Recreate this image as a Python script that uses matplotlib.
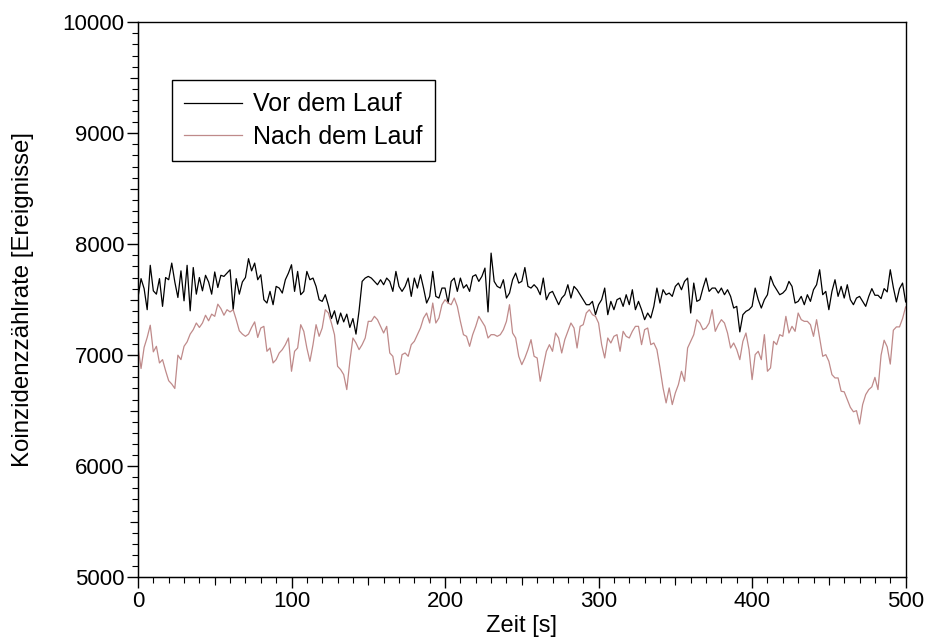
import numpy as np
import matplotlib
matplotlib.use("Agg")
import matplotlib.pyplot as plt
from matplotlib.ticker import MultipleLocator

# time axis, one sample every 2 s
zeit = np.arange(0, 501, 2)

# Vor dem Lauf (black)
vor = [
    7520, 7690, 7600, 7410, 7810, 7580, 7550, 7690, 7440, 7700,
    7680, 7830, 7660, 7520, 7760, 7490, 7810, 7400, 7790, 7550,
    7700, 7580, 7720, 7660, 7550, 7750, 7610, 7720, 7710, 7740,
    7770, 7410, 7690, 7550, 7660, 7700, 7870, 7760, 7830, 7680,
    7725, 7500, 7470, 7575, 7455, 7620, 7605, 7560, 7680, 7740,
    7815, 7575, 7755, 7545, 7575, 7755, 7680, 7695, 7620, 7500,
    7485, 7545, 7450, 7330, 7400, 7280, 7380, 7300, 7370, 7250,
    7330, 7190, 7400, 7665, 7695, 7710, 7695, 7665, 7635,
    7680, 7635, 7695, 7665, 7575, 7755, 7620, 7575, 7620, 7695,
    7530, 7695, 7605, 7725, 7605, 7470, 7530, 7755, 7530, 7515,
    7605, 7605, 7470, 7665, 7695, 7575, 7695, 7605, 7635, 7575,
    7710, 7725, 7665, 7710, 7785, 7390, 7920, 7665, 7620,
    7605, 7680, 7515, 7560, 7680, 7740, 7650, 7665, 7790, 7620,
    7605, 7635, 7605, 7545, 7695, 7500, 7560, 7575, 7515, 7455,
    7515, 7545, 7635, 7515, 7620, 7590, 7545, 7500, 7455, 7455,
    7485, 7365, 7455, 7500, 7605, 7365, 7485, 7410, 7500, 7515,
    7440, 7545, 7455, 7590, 7410, 7485, 7410, 7320, 7380, 7335,
    7440, 7605, 7470, 7590, 7545, 7560, 7530, 7620, 7650, 7590,
    7665, 7695, 7380, 7650, 7485, 7500, 7605, 7695, 7575, 7605,
    7605, 7560, 7605, 7545, 7590, 7530, 7425, 7440,
    7210, 7365, 7395, 7410, 7440, 7605, 7500, 7425, 7500, 7545,
    7710, 7635, 7590, 7545, 7560, 7590, 7665, 7620, 7470, 7485,
    7530, 7455, 7545, 7485, 7590, 7635, 7770, 7545, 7575, 7410,
    7575, 7680, 7530, 7620, 7515, 7635, 7500, 7455, 7515, 7530,
    7485, 7440, 7530,
    7600, 7540, 7540, 7510, 7600, 7570, 7770, 7610, 7480, 7600,
    7650, 7480,
]

# Nach dem Lauf (rosy brown)
nach = [
    7080, 6880, 7070, 7160, 7270, 7030, 7080, 6930, 6960, 6860,
    6770, 6740, 6700, 7000, 6960, 7080, 7120, 7190, 7230, 7290,
    7250, 7290, 7360, 7310, 7370, 7350, 7460, 7420, 7360, 7410,
    7390, 7410, 7320, 7220, 7190, 7170, 7190, 7250, 7300, 7160,
    7245, 7260, 7035, 7065, 6930, 6960, 7020, 7050, 7095, 7155,
    6855, 7035, 7065, 7275, 7215, 7065, 6945, 7095, 7275, 7170,
    7245, 7410, 7380, 7290, 7185, 6900, 6870, 6825, 6690, 6945,
    7155, 7110, 7050, 7095, 7155, 7305, 7305, 7350, 7320,
    7260, 7200, 7260, 7020, 6990, 6825, 6840, 7005, 7020, 6990,
    7095, 7125, 7185, 7245, 7335, 7380, 7290, 7470, 7290, 7335,
    7455, 7500, 7470, 7455, 7515, 7440, 7305, 7185, 7170, 7080,
    7185, 7260, 7350, 7305, 7260, 7155, 7185, 7185, 7170,
    7185, 7230, 7305, 7455, 7200, 7155, 6990, 6915, 6975, 7050,
    7140, 6990, 6975, 6765, 6900, 7035, 7095, 7035, 7200, 7155,
    7020, 7140, 7215, 7290, 7245, 7065, 7260, 7275, 7380, 7410,
    7365, 7350, 7290, 7095, 6975, 7155, 7110, 7170, 7185, 7035,
    7215, 7170, 7155, 7215, 7260, 7260, 7095, 7230, 7245, 7095,
    7110, 7050, 6885, 6705, 6570, 6705, 6555, 6660, 6735, 6855,
    6765, 7065, 7125, 7185, 7320, 7290, 7230, 7245, 7290, 7410,
    7215, 7275, 7320, 7290, 7200, 7065, 7110, 7050,
    6960, 7125, 7200, 7050, 6780, 7005, 7035, 6960, 7185, 6855,
    6885, 7125, 7095, 7185, 7170, 7350, 7200, 7260, 7215, 7380,
    7320, 7305, 7305, 7275, 7170, 7320, 7155, 6990, 7005, 6945,
    6825, 6795, 6795, 6675, 6670, 6600, 6530, 6490, 6500, 6380,
    6555, 6645, 6690,
    6715, 6800, 6690, 7000, 7135, 7075, 6920, 7225, 7255, 7255,
    7330, 7435,
]

plt.rcParams['font.family'] = ['Liberation Sans', 'DejaVu Sans']

fig = plt.figure(figsize=(9.26, 6.37), dpi=100)
ax = fig.add_axes([0.149, 0.094, 0.829, 0.871])

ax.plot(zeit, vor, color='black', lw=0.9, label='Vor dem Lauf')
ax.plot(zeit, nach, color='#bf8a8a', lw=0.9, label='Nach dem Lauf')

ax.set_xlim(0, 500)
ax.set_ylim(5000, 10000)
ax.xaxis.set_major_locator(MultipleLocator(100))
ax.xaxis.set_minor_locator(MultipleLocator(10))
ax.yaxis.set_major_locator(MultipleLocator(1000))
ax.yaxis.set_minor_locator(MultipleLocator(100))
ax.tick_params(which='major', length=8, width=1, labelsize=16, pad=2)
ax.tick_params(which='minor', length=4, width=0.8)

# medium ticks at the half steps
secx = ax.secondary_xaxis('bottom')
secx.set_xticks(np.arange(50, 500, 100))
secx.tick_params(length=6, width=0.8, labelbottom=False)
secy = ax.secondary_yaxis('left')
secy.set_yticks(np.arange(5500, 10000, 1000))
secy.tick_params(length=6, width=0.8, labelleft=False)

for s in ax.spines.values():
    s.set_linewidth(1)

ax.set_xlabel('Zeit [s]', fontsize=17, labelpad=2)
ax.set_ylabel('Koinzidenzzählrate [Ereignisse]', fontsize=17.3, labelpad=20)

leg = ax.legend(loc='upper left', bbox_to_anchor=(0.044, 0.896), fontsize=18,
                frameon=True, fancybox=False, edgecolor='black', framealpha=1,
                handlelength=2.3, handletextpad=0.45, labelspacing=0.34,
                borderpad=0.5, borderaxespad=0)
leg.get_frame().set_linewidth(1)

fig.savefig('out.png', dpi=100)
